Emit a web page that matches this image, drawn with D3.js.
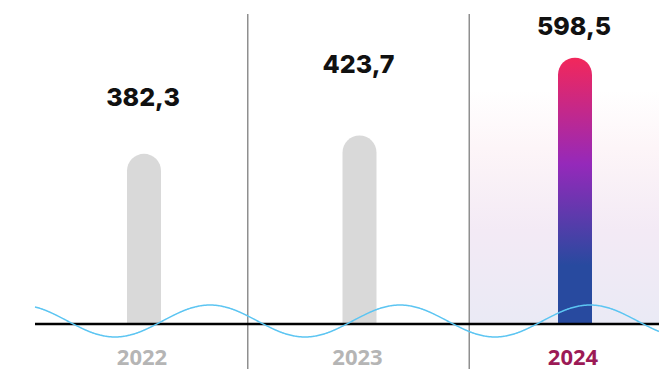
<!DOCTYPE html>
<html><head><meta charset="utf-8">
<script src="https://cdn.jsdelivr.net/npm/d3@7/dist/d3.min.js"></script>
<style>html,body{margin:0;padding:0;background:#fff;overflow:hidden}</style>
</head><body>
<svg id="c" width="659" height="369"></svg>
<script>
const categories = ["2022", "2023", "2024"];
const values = [382.3, 423.7, 598.5];
const valueLabels = ["382,3", "423,7", "598,5"];

// layout (not data)
const W = 659, H = 369, base = 324;
const labelLift = [48, 62, 23];
const svg = d3.select("#c");
const defs = svg.append("defs");

const x = d3.scaleBand().domain(categories).range([36.25, 682.75]).paddingInner(0).paddingOuter(0);
const barW = 34;
const y = d3.scaleLinear().domain([0, 728]).range([base, 0]);
const cx = c => x(c) + x.bandwidth() / 2;

// background gradient for highlighted panel
const bg = defs.append("linearGradient").attr("id", "bg").attr("x1", 0).attr("y1", 0).attr("x2", 0).attr("y2", 1);
[[0, "#ffffff"], [0.25, "#fdf5f8"], [0.6, "#f3eaf5"], [1, "#eaeaf5"]].forEach(s => bg.append("stop").attr("offset", s[0]).attr("stop-color", s[1]));
const bar = defs.append("linearGradient").attr("id", "bar").attr("gradientUnits", "userSpaceOnUse")
  .attr("x1", 0).attr("x2", 0).attr("y1", y(values[2])).attr("y2", base);
[[0, "#f2275b"], [0.4, "#9529ba"], [0.78, "#284a9f"], [1, "#284a9f"]].forEach(s => bar.append("stop").attr("offset", s[0]).attr("stop-color", s[1]));

const sep1 = (cx(categories[0]) + cx(categories[1])) / 2 - 4;
const sep2 = (cx(categories[1]) + cx(categories[2])) / 2 + 2;
svg.append("rect").attr("x", sep2).attr("y", 90).attr("width", W - sep2).attr("height", base - 90).attr("fill", "url(#bg)");

// separators
svg.selectAll("line.sep").data([sep1, sep2]).enter().append("line")
  .attr("x1", d => d).attr("x2", d => d).attr("y1", 14).attr("y2", H)
  .attr("stroke", "#8f8f8f").attr("stroke-width", 1.5);

// bars with rounded tops
function barPath(c, v) {
  const x0 = cx(c) - barW / 2, x1 = x0 + barW, r = barW / 2, t = y(v);
  return `M${x0},${base}L${x0},${t + r}A${r},${r} 0 0 1 ${x1},${t + r}L${x1},${base}Z`;
}
svg.selectAll("path.bar").data(categories).enter().append("path")
  .attr("d", (c, i) => barPath(c, values[i]))
  .attr("fill", (c, i) => i === 2 ? "url(#bar)" : "#d9d9d9");

// wave
const waveX = d3.range(35, W + 1, 1);
const wave = d3.line().x(d => d).y(d => 321 - 16 * Math.cos((d - 20) / 190 * 2 * Math.PI)).curve(d3.curveBasis);
// baseline
svg.append("line").attr("x1", 35).attr("x2", W).attr("y1", base).attr("y2", base).attr("stroke", "#000").attr("stroke-width", 2.5);
svg.append("path").attr("d", wave(waveX)).attr("fill", "none").attr("stroke", "#5cc5f2").attr("stroke-width", 1.5);

// value labels
svg.selectAll("text.val").data(categories).enter().append("text")
  .attr("x", c => cx(c) - 1).attr("y", (c, i) => y(values[i]) - labelLift[i])
  .attr("text-anchor", "middle").attr("font-family", "Inter, sans-serif").attr("font-weight", 800)
  .attr("font-size", 25).attr("fill", "#111").text((c, i) => valueLabels[i]);

// year labels
svg.selectAll("text.yr").data(categories).enter().append("text")
  .attr("x", c => cx(c) - 2).attr("y", 365)
  .attr("text-anchor", "middle").attr("font-family", "'Open Sans', sans-serif").attr("font-weight", 700)
  .attr("font-size", 22).attr("fill", (c, i) => i === 2 ? "#9c1a56" : "#b5b5b5").text(c => c);
</script>
</body></html>
